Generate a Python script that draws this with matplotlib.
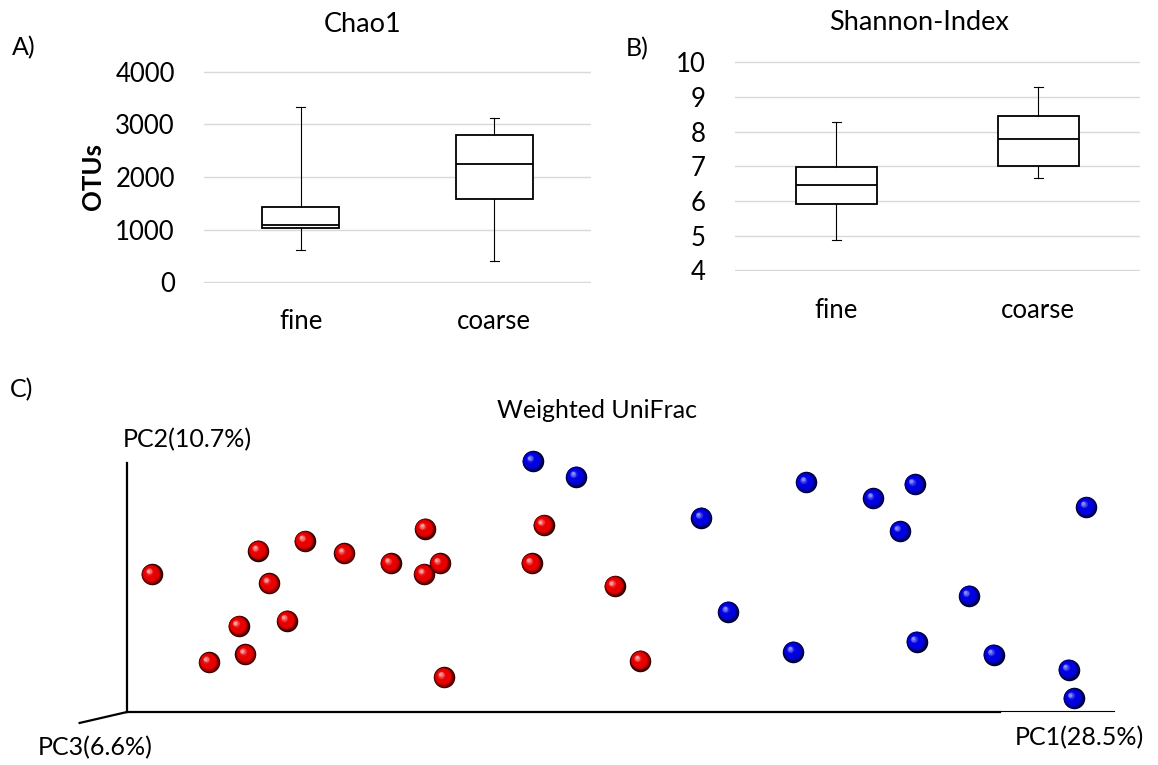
import matplotlib
matplotlib.use("Agg")
import matplotlib.pyplot as plt
import matplotlib.transforms as mtransforms
import matplotlib.colors as mcolors
import numpy as np

W, H = 1158, 765
plt.rcParams["font.family"] = ["Lato", "DejaVu Sans"]

groups = ["fine", "coarse"]

# Chao1 box stats per group
chao1_low = [604, 395]
chao1_q1 = [1032, 1588]
chao1_med = [1081, 2244]
chao1_q3 = [1421, 2800]
chao1_high = [3340, 3128]
chao1_ticks = [0, 1000, 2000, 3000, 4000]

# Shannon box stats per group
shannon_low = [4.89, 6.65]
shannon_q1 = [5.91, 7.00]
shannon_med = [6.46, 7.80]
shannon_q3 = [6.99, 8.44]
shannon_high = [8.27, 9.28]
shannon_ticks = [4, 5, 6, 7, 8, 9, 10]

# PCoA scores (projected, 0-100 along the drawn PC1 / PC2 axes)
red_pc1 = [2.5, 13.3, 18.0, 22.0, 26.7, 30.2, 30.1, 31.7, 42.2, 41.0,
           14.4, 11.3, 16.2, 8.3, 12.0, 32.1, 49.4, 52.0]
red_pc2 = [55.3, 64.8, 68.7, 63.7, 59.7, 73.6, 55.4, 59.7, 75.1, 59.7,
           51.7, 34.5, 36.7, 20.0, 23.2, 13.9, 50.6, 20.6]
blue_pc1 = [41.1, 45.5, 68.8, 75.6, 79.8, 78.3, 97.2, 58.2, 85.3, 60.9,
            67.5, 80.0, 87.8, 95.4, 95.9]
blue_pc2 = [100.8, 94.5, 92.2, 85.8, 91.4, 72.7, 82.4, 78.0, 46.7, 40.3,
            24.2, 28.2, 23.0, 17.0, 5.5]

fig = plt.figure(figsize=(W / 100, H / 100), dpi=100)


def px_axes(x0, y0, x1, y1):
    return fig.add_axes([x0 / W, 1 - y1 / H, (x1 - x0) / W, (y1 - y0) / H])


def px_text(x, y, s, **kw):
    kw.setdefault("ha", "center")
    kw.setdefault("va", "center")
    fig.text(x / W, 1 - y / H, s, **kw)


def box_panel(ax, low, q1, med, q3, high, ticks):
    stats = []
    for i in range(len(groups)):
        stats.append(dict(whislo=low[i], q1=q1[i], med=med[i], q3=q3[i],
                          whishi=high[i], fliers=[], label=groups[i]))
    ax.bxp(stats, positions=[1, 2], widths=0.4, capwidths=0.045,
           showfliers=False, patch_artist=True,
           boxprops=dict(facecolor="white", edgecolor="black", linewidth=1.3),
           medianprops=dict(color="black", linewidth=1.3),
           whiskerprops=dict(color="black", linewidth=0.8),
           capprops=dict(color="black", linewidth=0.8))
    ax.set_xlim(0.5, 2.5)
    span = ticks[-1] - ticks[0]
    ax.set_ylim(ticks[0] - span * 0.004, ticks[-1] + span * 0.004)
    ax.set_yticks(ticks)
    ax.yaxis.grid(True, color="#d9d9d9", linewidth=1.0)
    ax.set_axisbelow(True)
    for sp in ax.spines.values():
        sp.set_visible(False)
    ax.tick_params(axis="y", length=0, pad=21, labelsize=18.5)
    ax.tick_params(axis="x", length=0, pad=19, labelsize=18.5)


axA = px_axes(204, 71, 591, 283)
box_panel(axA, chao1_low, chao1_q1, chao1_med, chao1_q3, chao1_high, chao1_ticks)
axB = px_axes(735, 61.3, 1139.5, 271.3)
box_panel(axB, shannon_low, shannon_q1, shannon_med, shannon_q3, shannon_high, shannon_ticks)

px_text(363, 25, "Chao1", fontsize=19.5)
px_text(919, 22, "Shannon-Index", fontsize=19.5)
px_text(24, 48, "A)", fontsize=18)
px_text(637, 49, "B)", fontsize=18)
px_text(93, 177, "OTUs", fontsize=18.5, fontweight="bold", rotation=90)

# PCoA panel
axC = px_axes(127, 463, 1114, 712)
axC.set_xlim(0, 100)
axC.set_ylim(0, 100)
axC.axis("off")
axC.plot([0, 88.5], [0, 0], color="black", lw=1.6, clip_on=False)
axC.plot([88.5, 100], [0.3, 0.3], color="black", lw=0.8, clip_on=False)
axC.plot([0, 0], [0, 100], color="black", lw=1.6, clip_on=False)
axC.plot([0, -4.8], [0, -4.4], color="black", lw=1.6, clip_on=False)


def mix(c1, c2, t):
    a = np.array(mcolors.to_rgb(c1))
    b = np.array(mcolors.to_rgb(c2))
    return tuple(a + (b - a) * t)


def spheres(ax, xs, ys, dark, mid, light, d=15.5, z=3):
    n = 12
    for j, (x, y) in enumerate(zip(xs, ys)):
        for k in range(n):
            t = k / (n - 1)
            size = d * (1 - 0.85 * t)
            if t < 0.3:
                c = mix(dark, mid, t / 0.3)
            elif t < 0.7:
                c = mid
            else:
                c = mix(mid, light, (t - 0.7) / 0.3)
            off = mtransforms.ScaledTranslation(-0.16 * d * t / 72, 0.16 * d * t / 72,
                                                fig.dpi_scale_trans)
            ax.scatter([x], [y], s=size ** 2, color=c, linewidths=0,
                       transform=ax.transData + off, clip_on=False,
                       zorder=z + j * 0.05 + k * 0.001)


spheres(axC, red_pc1, red_pc2, "#300000", "#e80000", "#ff9c9c")
spheres(axC, blue_pc1, blue_pc2, "#000030", "#0000e0", "#8a8aff", z=5)

px_text(22, 390, "C)", fontsize=18)
px_text(597, 411, "Weighted UniFrac", fontsize=18)
px_text(123, 440, "PC2(10.7%)", fontsize=18, ha="left")
px_text(38, 748, "PC3(6.6%)", fontsize=18, ha="left")
px_text(1015, 738, "PC1(28.5%)", fontsize=18, ha="left")

fig.savefig("out.png", dpi=100)
plt.close(fig)
